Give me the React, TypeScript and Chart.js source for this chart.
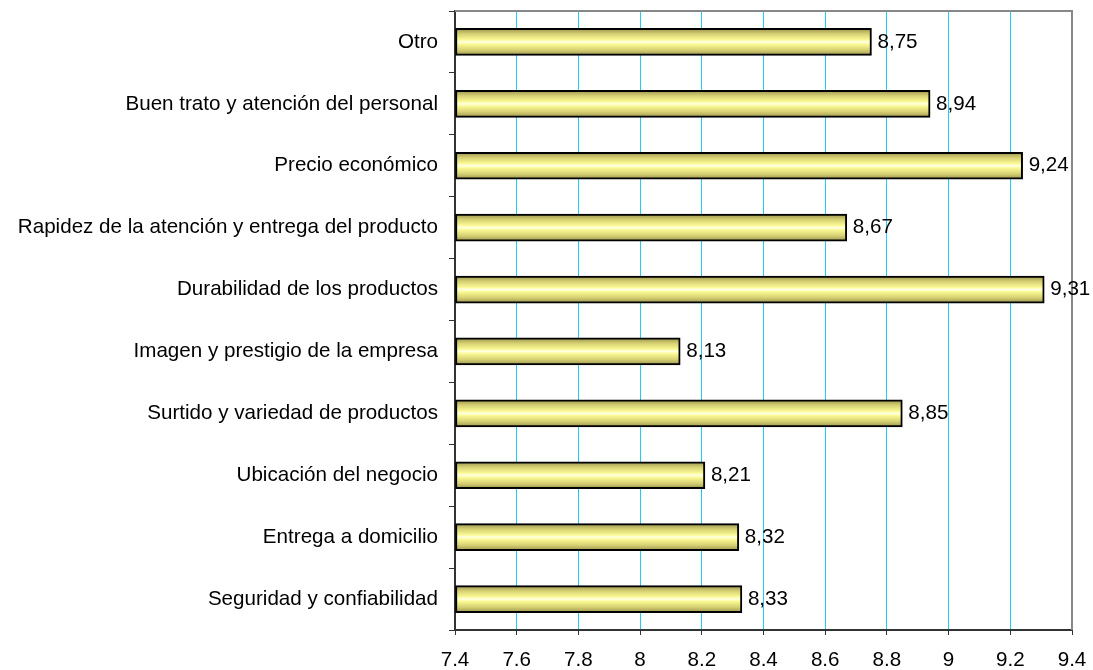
import React, { useEffect, useRef } from "react";
import { Chart, registerables } from "chart.js";

Chart.register(...registerables);

const categories = [
  "Otro",
  "Buen trato y atención del personal",
  "Precio económico",
  "Rapidez de la atención y entrega del producto",
  "Durabilidad de los productos",
  "Imagen y prestigio de la empresa",
  "Surtido y variedad de productos",
  "Ubicación del negocio",
  "Entrega a domicilio",
  "Seguridad y confiabilidad",
];
const values = [8.75, 8.94, 9.24, 8.67, 9.31, 8.13, 8.85, 8.21, 8.32, 8.33];
const xMin = 7.4;
const xMax = 9.4;
const xStep = 0.2;

const FONT = "'Liberation Sans', Arial, sans-serif";
const FSIZE = 20.6;

export default function App() {
  const ref = useRef<HTMLCanvasElement | null>(null);

  useEffect(() => {
    if (!ref.current) return;
    const barThickness = 27;

    const labelPlugin = {
      id: "labels",
      afterDatasetsDraw(chart: any) {
        const ctx = chart.ctx;
        const meta = chart.getDatasetMeta(0);
        ctx.save();
        ctx.font = `${FSIZE}px ${FONT}`;
        ctx.fillStyle = "#000";
        ctx.textAlign = "left";
        ctx.textBaseline = "middle";
        meta.data.forEach((el: any, i: number) => {
          ctx.fillText(values[i].toFixed(2).replace(".", ","), el.x + 6, el.y);
        });
        ctx.restore();
      },
    };

    const framePlugin = {
      id: "frame",
      beforeDatasetsDraw(chart: any) {
        const { ctx, chartArea } = chart;
        ctx.save();
        ctx.strokeStyle = "#888888";
        ctx.lineWidth = 2;
        ctx.beginPath();
        ctx.moveTo(chartArea.left, chartArea.top);
        ctx.lineTo(chartArea.right, chartArea.top);
        ctx.lineTo(chartArea.right, chartArea.bottom);
        ctx.stroke();
        ctx.restore();
      },
    };

    const chart = new Chart(ref.current, {
      type: "bar",
      data: {
        labels: categories,
        datasets: [
          {
            data: values,
            base: xMin,
            barThickness,
            borderColor: "#000",
            borderWidth: 2,
            borderSkipped: false,
            backgroundColor: (c: any) => {
              const chart = c.chart;
              const y = chart.scales?.y;
              if (!y || c.dataIndex === undefined) return "#f0f090";
              const cy = y.getPixelForValue(c.dataIndex);
              if (!Number.isFinite(cy)) return "#f0f090";
              const top = cy - barThickness / 2;
              const bottom = cy + barThickness / 2;
              const g = chart.ctx.createLinearGradient(0, top, 0, bottom);
              g.addColorStop(0, "#999250");
              g.addColorStop(0.2, "#d6d072");
              g.addColorStop(0.42, "#fbfa96");
              g.addColorStop(0.5, "#ffffe8");
              g.addColorStop(0.58, "#fbfa96");
              g.addColorStop(0.8, "#d6d072");
              g.addColorStop(1, "#999250");
              return g;
            },
          } as any,
        ],
      },
      options: {
        indexAxis: "y",
        animation: false,
        responsive: true,
        maintainAspectRatio: false,
        layout: { padding: { top: 11, right: 21, left: 0, bottom: 0 } },
        plugins: {
          legend: { display: false },
          tooltip: { enabled: false },
        },
        scales: {
          x: {
            type: "linear",
            min: xMin,
            max: xMax,
            ticks: {
              stepSize: xStep,
              color: "#000",
              font: { family: FONT, size: FSIZE },
              padding: 13,
              callback: (v: any) => String(Math.round(Number(v) * 10) / 10),
            },
            grid: {
              color: (c: any) => {
                const v = c.tick ? c.tick.value : 0;
                if (Math.abs(v - xMin) < 1e-6 || Math.abs(v - xMax) < 1e-6) return "rgba(0,0,0,0)";
                return "#22ccf5";
              },
              lineWidth: 1,
              tickColor: "#333",
              tickLength: 5,
            },
            border: { color: "#333", width: 2 },
            afterFit: (s: any) => {
              s.height = 40;
              s.paddingLeft = 0;
              s.paddingRight = 0;
              s.paddingTop = 0;
              s.paddingBottom = 0;
            },
          },
          y: {
            type: "category",
            ticks: {
              color: "#000",
              font: { family: FONT, size: FSIZE },
              padding: 11,
            },
            grid: {
              offset: true,
              drawOnChartArea: false,
              tickColor: "#333",
              tickLength: 6,
            },
            border: { color: "#333", width: 2 },
            afterFit: (s: any) => {
              s.width = 455;
              s.paddingLeft = 0;
              s.paddingRight = 0;
              s.paddingTop = 0;
              s.paddingBottom = 0;
            },
          },
        },
      } as any,
      plugins: [framePlugin, labelPlugin],
    });
    return () => chart.destroy();
  }, []);

  return (
    <div style={{ position: "fixed", left: 0, top: 0, width: 1093, height: 670, background: "#fff" }}>
      <canvas ref={ref} />
    </div>
  );
}
